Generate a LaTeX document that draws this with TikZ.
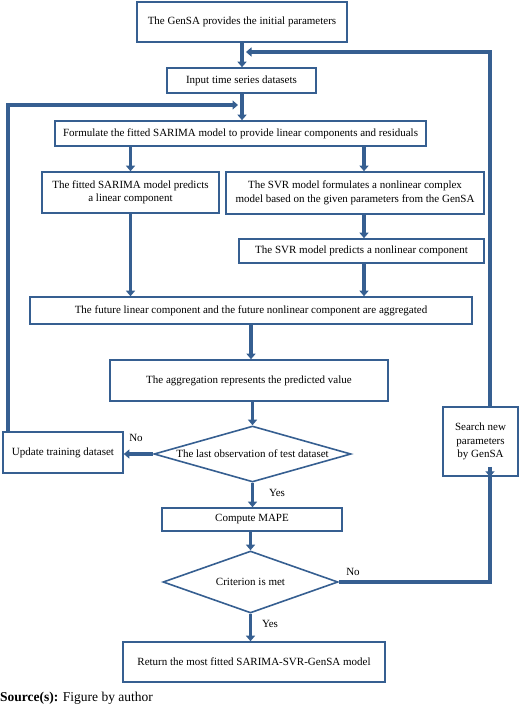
\documentclass[tikz,border=0pt]{standalone}
\usepackage{fontspec}
\setmainfont{Liberation Serif}
\usetikzlibrary{arrows.meta,shapes.geometric}
\definecolor{fc}{HTML}{365F91}
\tikzset{
  box/.style={draw=fc, line width=1.6pt, fill=white, rectangle, inner sep=1pt, align=center, font=\fontsize{11}{13.5}\selectfont},
  dia/.style={draw=fc, line width=1.6pt, fill=white, diamond, aspect=3.5, inner sep=0pt, align=center, font=\fontsize{11}{13.5}\selectfont},
  arr/.style={draw=fc, line width=3.5pt, -{Triangle[width=9pt,length=5.5pt]}},
  fline/.style={draw=fc, line width=4pt},
  lbl/.style={font=\fontsize{11}{13}\selectfont, inner sep=0pt}
}
\begin{document}
\begin{tikzpicture}[x=1pt,y=-1pt]
\useasboundingbox (0,0) rectangle (520,706);
\node[box, minimum width=210pt, minimum height=40pt] (b1) at (242,22) {The GenSA provides the initial parameters};
\node[box, minimum width=149pt, minimum height=25pt] (b2) at (241.5,80.5) {Input time series datasets};
\node[box, minimum width=371pt, minimum height=25pt] (b3) at (240.5,133.5) {Formulate the fitted SARIMA model to provide linear components and residuals};
\node[box, minimum width=177pt, minimum height=41pt] (b4) at (130.5,192.5) {The fitted SARIMA model predicts\\a linear component};
\node[box, minimum width=258pt, minimum height=42pt] (b5) at (355,193) {The SVR model formulates a nonlinear complex\\model based on the given parameters from the GenSA};
\node[box, minimum width=245pt, minimum height=24pt] (b6) at (361.5,251) {The SVR model predicts a nonlinear component};
\node[box, minimum width=442pt, minimum height=27pt] (b7) at (251,310.5) {The future linear component and the future nonlinear component are aggregated};
\node[box, minimum width=278pt, minimum height=41pt] (b8) at (249,380.5) {The aggregation represents the predicted value};
\node[dia, minimum width=197pt, minimum height=56pt] (d1) at (252.5,454) {The last observation of test dataset};
\node[box, minimum width=120pt, minimum height=41pt] (upd) at (63,452.5) {Update training dataset};
\node[box, minimum width=180pt, minimum height=23pt] (mape) at (252,519.5) {Compute MAPE};
\node[dia, minimum width=175pt, minimum height=62pt, aspect=2.8] (d2) at (250.5,582) {Criterion is met};
\node[box, minimum width=75pt, minimum height=69pt] (search) at (480.5,441.5) {Search new\\parameters\\by GenSA};
\node[box, minimum width=262pt, minimum height=40pt] (final) at (254,662) {Return the most fitted SARIMA-SVR-GenSA model};

\coordinate (rx) at (490,0);
\coordinate (lx) at (8,0);
\coordinate (tipR) at (246,52);
\coordinate (tipL) at (238,105);
\coordinate (ax) at (364,0);

% main flow
\draw[arr] (b1.south) -- (b1.south |- b2.north);
\draw[arr] (b1.south |- b2.south) -- (b1.south |- b3.north);
\draw[arr] (b4.north |- b3.south) -- (b4.north);
\draw[arr] (ax |- b3.south) -- (ax |- b5.north);
\draw[arr] (ax |- b5.south) -- (ax |- b6.north);
\draw[arr] (ax |- b6.south) -- (ax |- b7.north);
\draw[arr] (b4.south) -- (b4.south |- b7.north);
\draw[arr] (b7.south) -- (b7.south |- b8.north);
\draw[arr] (d1.north |- b8.south) -- (d1.north);
\draw[arr] (d1.west) -- (d1.west -| upd.east);
\draw[arr] (d1.south) -- (d1.south |- mape.north);
\draw[arr] (d2.north |- mape.south) -- (d2.north);
\draw[arr] (d2.south) -- (d2.south |- final.north);

% feedback loops
\draw[fline] (upd.north -| lx) |- ([xshift=-4pt]tipL);
\draw[arr, line width=3.5pt] ([xshift=-6pt]tipL) -- (tipL);
\draw[fline] (search.north -| rx) |- ([xshift=4pt]tipR);
\draw[arr] ([xshift=6pt]tipR) -- (tipR);
\draw[fline] (d2.east) -| ([yshift=8pt]search.south -| rx);
\draw[arr] ([yshift=10pt]search.south -| rx) -- (search.south -| rx);

% labels
\node[lbl] (no1) at (136,438) {No};
\node[lbl] (yes1) at (277,493) {Yes};
\node[lbl] (no2) at (353,572) {No};
\node[lbl] (yes2) at (270,624) {Yes};
\node[anchor=base west, inner sep=0pt, font=\fontsize{13.5}{15}\selectfont] (src) at (0,701) {\textbf{Source(s):} Figure by author};
\end{tikzpicture}
\end{document}
